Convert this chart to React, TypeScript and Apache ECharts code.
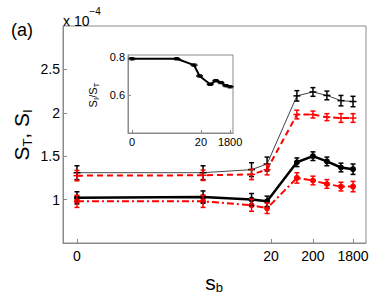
import React, { useEffect, useRef } from "react";
import * as echarts from "echarts";

// s_b values of the measured points
const SB = [0, 13, 18, 19.6, 83, 200, 430, 930, 1800];
// main plot series (x 10^-4)
const ST_BLACK = [1.31, 1.31, 1.345, 1.41, 2.195, 2.24, 2.2, 2.14, 2.13];
const ST_BLACK_ERR = [0.08, 0.08, 0.08, 0.08, 0.06, 0.05, 0.05, 0.06, 0.06];
const ST_RED = [1.276, 1.28, 1.29, 1.345, 1.98, 1.98, 1.95, 1.94, 1.94];
const ST_RED_ERR = [0.06, 0.06, 0.06, 0.06, 0.05, 0.04, 0.04, 0.05, 0.05];
const SI_BLACK = [1.02, 1.03, 1.0, 0.98, 1.43, 1.5, 1.44, 1.37, 1.35];
const SI_BLACK_ERR = [0.07, 0.07, 0.07, 0.06, 0.05, 0.05, 0.05, 0.05, 0.06];
const SI_RED = [0.98, 0.98, 0.935, 0.9, 1.25, 1.22, 1.18, 1.15, 1.15];
const SI_RED_ERR = [0.07, 0.07, 0.07, 0.06, 0.06, 0.05, 0.05, 0.05, 0.06];
// inset: S_I / S_T
const RATIO = [0.79, 0.79, 0.757, 0.7, 0.656, 0.675, 0.665, 0.649, 0.643];
const RATIO_ERR = [0.006, 0.006, 0.006, 0.006, 0.006, 0.006, 0.006, 0.006, 0.006];
// tick labels
const X_TICKS = [0, 20, 200, 1800];
const INSET_X_TICKS = [0, 20, 1800];
const Y_TICKS = [1, 1.5, 2, 2.5];
const INSET_Y_TICKS = [0.6, 0.8];

const K = 4.33; // axis units per decade beyond s_b = 20
const tx = (s: number) => (s <= 20 ? s : 20 + K * Math.log10(s / 20));

const FONT = "Liberation Sans, Arial, Helvetica, sans-serif";

function nearestTick(u: number, ticks: number[]) {
  let best = ticks[0];
  for (const t of ticks) if (Math.abs(tx(t) - u) < Math.abs(tx(best) - u)) best = t;
  return String(best);
}

function errSeries(values: number[], errs: number[], color: string, axis: number, cross: boolean, lw: number) {
  return {
    type: "custom",
    xAxisIndex: axis,
    yAxisIndex: axis,
    z: 5,
    data: SB.map((s, i) => [tx(s), values[i] - errs[i], values[i] + errs[i], values[i]]),
    encode: { x: 0, y: [1, 2] },
    renderItem: (params: any, api: any) => {
      const lo = api.coord([api.value(0), api.value(1)]);
      const hi = api.coord([api.value(0), api.value(2)]);
      const mid = api.coord([api.value(0), api.value(3)]);
      const w = 2.5;
      const style = { stroke: color, lineWidth: lw };
      const children: any[] = [
        { type: "line", shape: { x1: lo[0], y1: lo[1], x2: hi[0], y2: hi[1] }, style },
        { type: "line", shape: { x1: lo[0] - w, y1: lo[1], x2: lo[0] + w, y2: lo[1] }, style },
        { type: "line", shape: { x1: hi[0] - w, y1: hi[1], x2: hi[0] + w, y2: hi[1] }, style },
      ];
      if (cross) {
        children.push({
          type: "line",
          shape: { x1: mid[0] - 3.5, y1: mid[1], x2: mid[0] + 3.5, y2: mid[1] },
          style: { stroke: color, lineWidth: 1.5 },
        });
      }
      return { type: "group", children };
    },
  };
}

export default function App() {
  const ref = useRef<HTMLDivElement>(null);
  useEffect(() => {
    if (!ref.current) return;
    const chart = echarts.init(ref.current, null, { renderer: "svg" });
    const axisCommon = {
      type: "value",
      axisLine: { show: true, onZero: false, lineStyle: { color: "#8a8a8a", width: 1 } },
      splitLine: { show: false },
    };
    const mainX = SB.map((s) => tx(s));
    const option: any = {
      animation: false,
      backgroundColor: "#ffffff",
      grid: [
        { left: 63, top: 26, width: 303, height: 217, show: true, borderColor: "#8a8a8a", borderWidth: 1, backgroundColor: "#fff" },
        { left: 128, top: 55, width: 105, height: 78, show: true, borderColor: "#8a8a8a", borderWidth: 1, backgroundColor: "#fff", z: 10 },
      ],
      xAxis: [
        {
          ...axisCommon,
          gridIndex: 0,
          min: -1.44,
          max: 29.8,
          axisTick: { show: true, inside: true, length: 4, customValues: X_TICKS.map(tx), lineStyle: { color: "#8a8a8a" } },
          axisLabel: {
            customValues: X_TICKS.map(tx),
            formatter: (v: number) => nearestTick(v, X_TICKS),
            color: "#000",
            fontSize: 14,
            fontFamily: FONT,
            margin: 6,
          },
        },
        {
          ...axisCommon,
          gridIndex: 1,
          min: -1.16,
          max: 29.3,
          z: 10,
          axisTick: { show: true, inside: true, length: 3, customValues: INSET_X_TICKS.map(tx), lineStyle: { color: "#8a8a8a" } },
          axisLabel: {
            customValues: INSET_X_TICKS.map(tx),
            formatter: (v: number) => nearestTick(v, INSET_X_TICKS),
            color: "#000",
            fontSize: 11,
            fontFamily: FONT,
            margin: 3,
          },
        },
      ],
      yAxis: [
        {
          ...axisCommon,
          gridIndex: 0,
          min: 0.5,
          max: 3,
          axisTick: { show: true, inside: true, length: 4, customValues: Y_TICKS, lineStyle: { color: "#8a8a8a" } },
          axisLabel: {
            customValues: Y_TICKS,
            formatter: (v: number) => String(Math.round(v * 10) / 10),
            color: "#000",
            fontSize: 14,
            fontFamily: FONT,
            margin: 3,
          },
        },
        {
          ...axisCommon,
          gridIndex: 1,
          min: 0.4,
          max: 0.81,
          z: 10,
          axisTick: { show: true, inside: true, length: 3, customValues: INSET_Y_TICKS, lineStyle: { color: "#8a8a8a" } },
          axisLabel: {
            customValues: INSET_Y_TICKS,
            formatter: (v: number) => v.toFixed(1),
            color: "#000",
            fontSize: 11,
            fontFamily: FONT,
            margin: 3,
          },
        },
      ],
      series: [
        {
          type: "line",
          name: "S_T black",
          data: mainX.map((x, i) => [x, ST_BLACK[i]]),
          showSymbol: false,
          symbol: "none",
          lineStyle: { color: "#444", width: 1 },
        },
        {
          type: "line",
          name: "S_T red",
          data: mainX.map((x, i) => [x, ST_RED[i]]),
          symbol: "none",
          lineStyle: { color: "#ff0000", width: 2, type: [6, 4] },
        },
        {
          type: "line",
          name: "S_I black",
          data: mainX.map((x, i) => [x, SI_BLACK[i]]),
          symbol: "circle",
          symbolSize: 6,
          itemStyle: { color: "#000" },
          lineStyle: { color: "#000", width: 2.5 },
        },
        {
          type: "line",
          name: "S_I red",
          data: mainX.map((x, i) => [x, SI_RED[i]]),
          symbol: "circle",
          symbolSize: 6,
          itemStyle: { color: "#ff0000" },
          lineStyle: { color: "#ff0000", width: 2, type: [7, 3, 2, 3] },
        },
        errSeries(ST_BLACK, ST_BLACK_ERR, "#000", 0, true, 1.5),
        errSeries(ST_RED, ST_RED_ERR, "#ff0000", 0, true, 1.5),
        errSeries(SI_BLACK, SI_BLACK_ERR, "#000", 0, false, 1.5),
        errSeries(SI_RED, SI_RED_ERR, "#ff0000", 0, false, 1.5),
        {
          type: "line",
          xAxisIndex: 1,
          yAxisIndex: 1,
          z: 12,
          data: SB.map((s, i) => [tx(s), RATIO[i]]),
          symbol: "circle",
          symbolSize: 3,
          itemStyle: { color: "#000" },
          lineStyle: { color: "#000", width: 2 },
        },
        { ...errSeries(RATIO, RATIO_ERR, "#000", 1, true, 1), z: 12 },
      ],
      graphic: [
        {
          type: "text",
          left: 11,
          top: 21,
          style: { text: "(a)", fontSize: 18, fontFamily: FONT, fill: "#000" },
        },
        {
          type: "text",
          left: 63,
          top: 6,
          style: {
            text: "{a|x 10}{b|−4}",
            fontFamily: FONT,
            fill: "#000",
            rich: {
              a: { fontSize: 14, fontFamily: FONT, lineHeight: 22, verticalAlign: "bottom" },
              b: { fontSize: 10, fontFamily: FONT, lineHeight: 12, verticalAlign: "top" },
            },
          },
        },
        {
          type: "text",
          x: 21,
          y: 135,
          rotation: Math.PI / 2,
          style: {
            text: "{m|S}{s|T}{m|, S}{s|I}",
            align: "center",
            verticalAlign: "middle",
            fill: "#000",
            fontFamily: FONT,
            rich: {
              m: { fontSize: 21, fontFamily: FONT, lineHeight: 26 },
              s: { fontSize: 13, fontFamily: FONT, lineHeight: 10, verticalAlign: "bottom" },
            },
          },
        },
        {
          type: "text",
          x: 214,
          y: 282,
          style: {
            text: "{m|s}{s|b}",
            align: "center",
            verticalAlign: "middle",
            fill: "#000",
            fontFamily: FONT,
            rich: {
              m: { fontSize: 21, fontFamily: FONT, lineHeight: 24 },
              s: { fontSize: 13, fontFamily: FONT, lineHeight: 10, verticalAlign: "bottom" },
            },
          },
        },
        {
          type: "text",
          x: 93,
          y: 95,
          rotation: Math.PI / 2,
          z: 20,
          style: {
            text: "{m|S}{s|I}{m|/S}{s|T}",
            align: "center",
            verticalAlign: "middle",
            fill: "#000",
            fontFamily: FONT,
            rich: {
              m: { fontSize: 11, fontFamily: FONT, lineHeight: 14 },
              s: { fontSize: 8, fontFamily: FONT, lineHeight: 6, verticalAlign: "bottom" },
            },
          },
        },
      ],
    };
    chart.setOption(option);
    return () => chart.dispose();
  }, []);
  return (
    <div
      ref={ref}
      style={{ position: "absolute", left: 0, top: 0, width: 374, height: 296 }}
    />
  );
}
